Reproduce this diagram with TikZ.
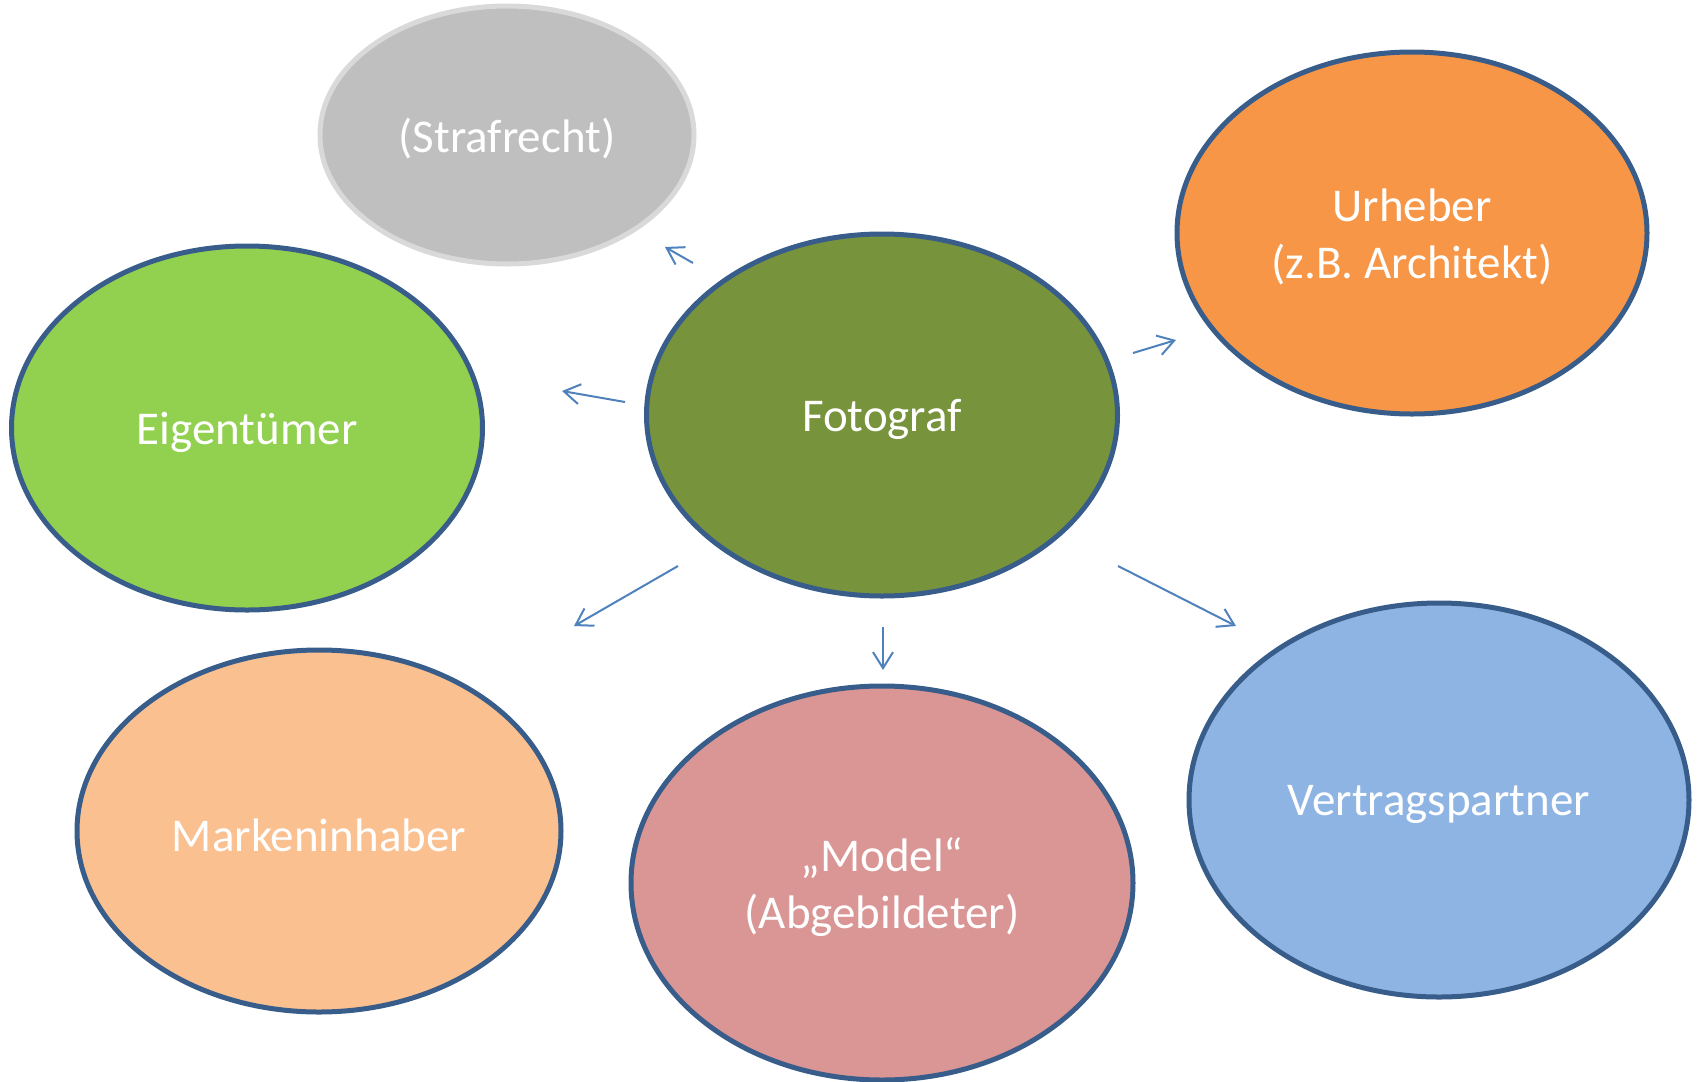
\documentclass[tikz,border=0pt]{standalone}
\usepackage{fontspec}
\setmainfont{Carlito}
\usetikzlibrary{shapes.geometric,arrows.meta}
\definecolor{rim}{HTML}{385D8A}
\definecolor{arrowblue}{HTML}{4F81BD}
\begin{document}
\begin{tikzpicture}[
    x=1pt, y=-1pt,
    every node/.style={inner sep=0pt, text=white, align=center,
        font=\fontsize{47}{57}\selectfont},
    party/.style={ellipse, draw=rim, line width=5pt},
    caption/.style={label={[yshift=-4pt]center:{#1}}},
    link/.style={draw=arrowblue, line width=2pt,
        -{Straight Barb[length=16pt,width=20pt,line width=2pt]}}
]
\useasboundingbox (0,0) rectangle (1698,1082);

\node[party, fill={rgb,255:red,191;green,191;blue,191}, draw={rgb,255:red,217;green,217;blue,217},
    minimum width=374pt, minimum height=258pt, caption={(Strafrecht)}]
    (straf) at (507,135) {};
\node[party, fill={rgb,255:red,119;green,147;blue,60}, minimum width=471pt, minimum height=362pt,
    caption={Fotograf}]
    (foto) at (882,415) {};
\node[party, fill={rgb,255:red,247;green,150;blue,70}, minimum width=470pt, minimum height=362pt,
    caption={Urheber\\(z.B. Architekt)}]
    (urheber) at (1412,233) {};
\node[party, fill={rgb,255:red,146;green,208;blue,80}, minimum width=471pt, minimum height=364pt,
    caption={Eigentümer}]
    (eigen) at (247,428) {};
\node[party, fill={rgb,255:red,250;green,192;blue,144}, minimum width=484pt, minimum height=362pt,
    caption={Markeninhaber}]
    (marke) at (319,831) {};
\node[party, fill={rgb,255:red,217;green,150;blue,148}, minimum width=502pt, minimum height=394pt,
    caption={„Model“\\(Abgebildeter)}]
    (model) at (882,883) {};
\node[party, fill={rgb,255:red,142;green,180;blue,227}, minimum width=500pt, minimum height=394pt,
    caption={Vertragspartner}]
    (vertrag) at (1439,800) {};

\coordinate (s1) at (693,263);  \coordinate (e1) at (665,247);
\coordinate (s2) at (1133,353); \coordinate (e2) at (1176,340);
\coordinate (s3) at (625,402);  \coordinate (e3) at (562,391);
\coordinate (s4) at (678,566);  \coordinate (e4) at (574,626);
\coordinate (s5) at (883,627);  \coordinate (e5) at (883,670);
\coordinate (s6) at (1118,566); \coordinate (e6) at (1236,626);

\draw[link] (s1) -- (e1);
\draw[link] (s2) -- (e2);
\draw[link] (s3) -- (e3);
\draw[link] (s4) -- (e4);
\draw[link] (s5) -- (e5);
\draw[link] (s6) -- (e6);
\end{tikzpicture}
\end{document}
